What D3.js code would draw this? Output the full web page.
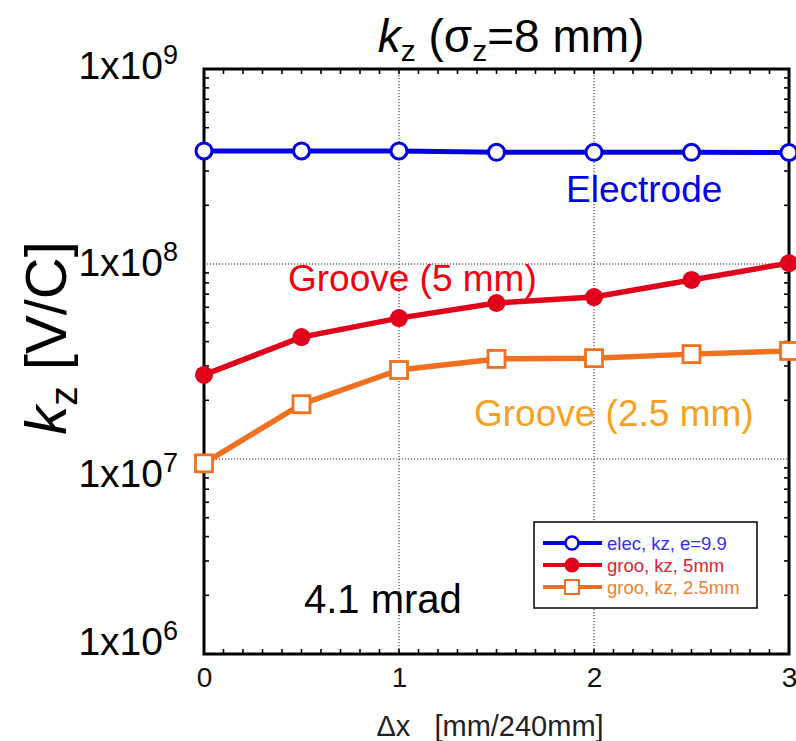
<!DOCTYPE html>
<html><head><meta charset="utf-8">
<script src="https://cdn.jsdelivr.net/npm/d3@7"></script>
<style>
html,body{margin:0;padding:0;background:#fff;}
svg{display:block;font-family:"Liberation Sans",Arial,Helvetica,sans-serif;}
</style></head>
<body>
<svg id="chart" width="796" height="741"></svg>
<script>
// ---- data ----
const xValues = [0, 0.5, 1, 1.5, 2, 2.5, 3];
const electrode = [3.80e8, 3.80e8, 3.80e8, 3.74e8, 3.74e8, 3.74e8, 3.73e8];
const groove5 = [2.70e7, 4.22e7, 5.28e7, 6.31e7, 6.77e7, 8.28e7, 1.01e8];
const groove25 = [9.5e6, 1.91e7, 2.86e7, 3.26e7, 3.29e7, 3.45e7, 3.58e7];
const xTickValues = [0, 1, 2, 3];
const yTickValues = [1e6, 1e7, 1e8, 1e9];
const yTickExponents = ["6", "7", "8", "9"];
const seriesNames = ["elec, kz, e=9.9", "groo, kz, 5mm", "groo, kz, 2.5mm"];

const svg = d3.select("#chart");
const m = {left: 204, right: 789, top: 69, bottom: 654};
const x = d3.scaleLinear().domain([0, 3]).range([m.left, m.right]);
const y = d3.scaleLog().domain([1e6, 1e9]).range([m.bottom, m.top]);

// grid lines (dotted)
const grid = svg.append("g").attr("stroke", "#222").attr("stroke-width", 1).attr("stroke-dasharray", "1.2,1.8");
grid.selectAll(".gx").data([1, 2]).join("line")
  .attr("x1", d => x(d)).attr("x2", d => x(d)).attr("y1", m.top).attr("y2", m.bottom);
grid.selectAll(".gy").data([1e7, 1e8]).join("line")
  .attr("y1", d => y(d)).attr("y2", d => y(d)).attr("x1", m.left).attr("x2", m.right);

// minor ticks (inward)
const xMinor = d3.range(0, 3.0001, 0.1);
const yMinor = [];
[1e6, 1e7, 1e8].forEach(dec => { for (let k = 2; k <= 9; k++) yMinor.push(dec * k); });
const tk = svg.append("g").attr("stroke", "#000").attr("stroke-width", 1.6);
xMinor.forEach(v => {
  tk.append("line").attr("x1", x(v)).attr("x2", x(v)).attr("y1", m.bottom).attr("y2", m.bottom - 5);
  tk.append("line").attr("x1", x(v)).attr("x2", x(v)).attr("y1", m.top).attr("y2", m.top + 5);
});
yMinor.forEach(v => {
  tk.append("line").attr("y1", y(v)).attr("y2", y(v)).attr("x1", m.left).attr("x2", m.left + 5);
  tk.append("line").attr("y1", y(v)).attr("y2", y(v)).attr("x1", m.right).attr("x2", m.right - 5);
});

// x axis labels
const xAxis = d3.axisBottom(x).tickValues(xTickValues).tickSize(0).tickPadding(13).tickFormat(d3.format("d"));
const gx = svg.append("g").attr("transform", `translate(0,${m.bottom})`).call(xAxis);
gx.select(".domain").remove();
gx.selectAll("text").attr("font-size", 28).attr("fill", "#111").attr("font-family", "'Liberation Sans',Arial,sans-serif");

// y axis labels (1x10^n)
const labelNudge = {6: -11, 7: 16, 8: 0, 9: -2};
const yAxis = d3.axisLeft(y).tickValues(yTickValues).tickSize(0).tickPadding(26).tickFormat(() => "");
const gy = svg.append("g").attr("transform", `translate(${m.left},0)`).call(yAxis);
gy.select(".domain").remove();
gy.selectAll(".tick text").each(function(d, i) {
  const t = d3.select(this).attr("font-size", 39).attr("fill", "#000").attr("dy", "0.3em")
    .attr("y", labelNudge[yTickExponents[i]])
    .attr("font-family", "'Liberation Sans',Arial,sans-serif");
  t.append("tspan").text("1x10");
  t.append("tspan").attr("font-size", 27).attr("dy", "-0.55em").text(yTickExponents[i]);
});

// frame
svg.append("rect").attr("x", m.left).attr("y", m.top).attr("width", m.right - m.left).attr("height", m.bottom - m.top)
  .attr("fill", "none").attr("stroke", "#000").attr("stroke-width", 3);

// lines
const line = data => d3.line().x((d, i) => x(xValues[i])).y(d => y(d))(data);
svg.append("path").attr("d", line(groove25)).attr("fill", "none").attr("stroke", "#f07020").attr("stroke-width", 5.5);
svg.append("path").attr("d", line(groove5)).attr("fill", "none").attr("stroke", "#e0001a").attr("stroke-width", 5.5);
svg.append("path").attr("d", line(electrode)).attr("fill", "none").attr("stroke", "#0000e0").attr("stroke-width", 5);

// markers
svg.append("g").selectAll("rect").data(groove25).join("rect")
  .attr("x", (d, i) => x(xValues[i]) - 8.5).attr("y", d => y(d) - 8.5).attr("width", 17).attr("height", 17)
  .attr("fill", "#fff").attr("stroke", "#f07020").attr("stroke-width", 2.8);
svg.append("g").selectAll("circle").data(groove5).join("circle")
  .attr("cx", (d, i) => x(xValues[i])).attr("cy", d => y(d)).attr("r", 9).attr("fill", "#e0001a");
svg.append("g").selectAll("circle").data(electrode).join("circle")
  .attr("cx", (d, i) => x(xValues[i])).attr("cy", d => y(d)).attr("r", 8)
  .attr("fill", "#fff").attr("stroke", "#0000e0").attr("stroke-width", 3);

// in-plot annotations
svg.append("text").attr("x", 566).attr("y", 202).attr("font-size", 37).attr("fill", "#0000f0").text("Electrode");
svg.append("text").attr("x", 288).attr("y", 291).attr("font-size", 37).attr("fill", "#f00010").text("Groove (5 mm)");
svg.append("text").attr("x", 474).attr("y", 426).attr("font-size", 37).attr("fill", "#f7a020").text("Groove (2.5 mm)");
svg.append("text").attr("x", 304).attr("y", 613).attr("font-size", 40).attr("fill", "#000").text("4.1 mrad");

// legend
const lg = svg.append("g");
lg.append("rect").attr("x", 534).attr("y", 522).attr("width", 223).attr("height", 86)
  .attr("fill", "#fff").attr("stroke", "#000").attr("stroke-width", 1.5);
const legColors = ["#0000e0", "#e0001a", "#f07020"];
const legText = ["#3030f0", "#e82030", "#f08030"];
seriesNames.forEach((name, i) => {
  const ly = 543 + i * 22;
  lg.append("line").attr("x1", 543).attr("x2", 602).attr("y1", ly).attr("y2", ly)
    .attr("stroke", legColors[i]).attr("stroke-width", 4);
  if (i === 0) lg.append("circle").attr("cx", 572).attr("cy", ly).attr("r", 6.5).attr("fill", "#fff").attr("stroke", legColors[i]).attr("stroke-width", 2.5);
  if (i === 1) lg.append("circle").attr("cx", 572).attr("cy", ly).attr("r", 7.5).attr("fill", legColors[i]);
  if (i === 2) lg.append("rect").attr("x", 565).attr("y", ly - 7).attr("width", 14).attr("height", 14).attr("fill", "#fff").attr("stroke", legColors[i]).attr("stroke-width", 2);
  lg.append("text").attr("x", 607).attr("y", ly + 6.5).attr("font-size", 18.5).attr("fill", legText[i]).text(name);
});

// title
const title = svg.append("text").attr("x", 511).attr("y", 52).attr("text-anchor", "middle").attr("font-size", 46).attr("fill", "#000");
title.append("tspan").attr("font-style", "italic").text("k");
title.append("tspan").attr("font-size", 30).attr("dy", 9).text("z");
title.append("tspan").attr("dy", -9).text(" (σ");
title.append("tspan").attr("font-size", 30).attr("dy", 9).text("z");
title.append("tspan").attr("dy", -9).text("=8 mm)");

// y axis title
const yt = svg.append("text").attr("transform", "translate(66,338) rotate(-90)").attr("text-anchor", "middle")
  .attr("font-size", 58).attr("fill", "#000");
yt.append("tspan").attr("font-style", "italic").text("k");
yt.append("tspan").attr("font-size", 39).attr("dy", 11).text("z");
yt.append("tspan").attr("dy", -11).text(" [V/C]");

// x axis title
svg.append("text").attr("x", 490).attr("y", 736).attr("text-anchor", "middle").attr("font-size", 29).attr("fill", "#222")
  .style("white-space", "pre").text("Δx   [mm/240mm]");
</script>
</body></html>
